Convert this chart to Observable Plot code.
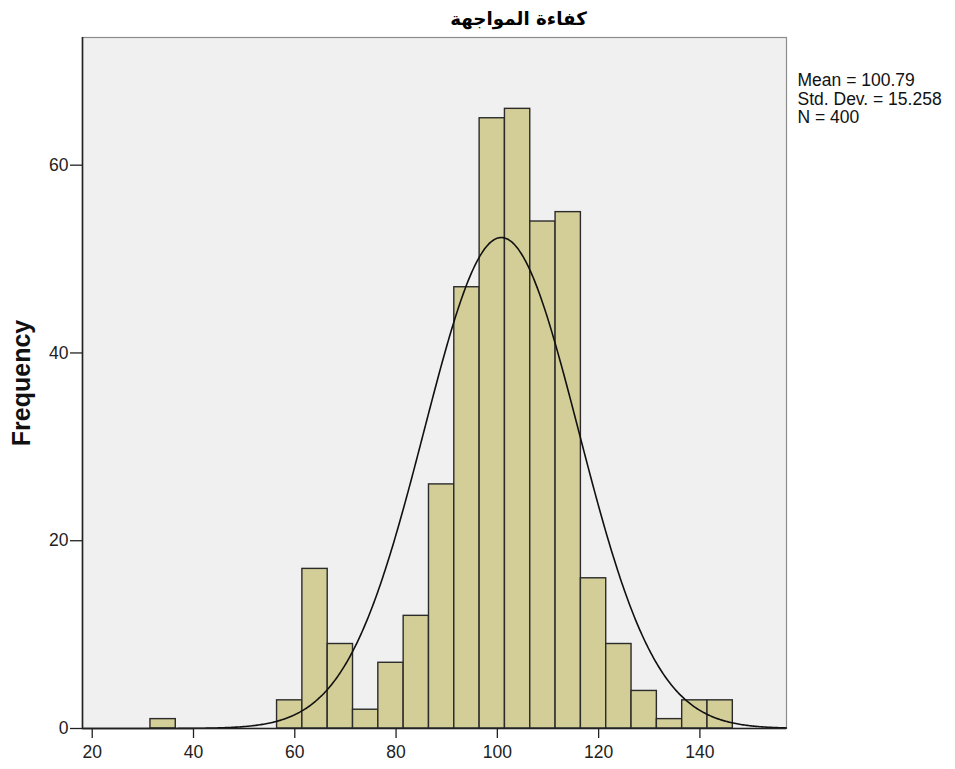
<!DOCTYPE html>
<html>
<head>
<meta charset="utf-8">
<script src="https://cdn.jsdelivr.net/npm/d3@7"></script>
<script src="https://cdn.jsdelivr.net/npm/@observablehq/plot@0.6"></script>
<style>
  html, body { margin: 0; padding: 0; background: #ffffff; }
  svg { overflow: visible; }
</style>
</head>
<body>
<div id="chart"></div>
<script>
// Data
const title = "كفاءة المواجهة";
const yLabel = "Frequency";
const binLower = [31.5, 56.5, 61.5, 66.5, 71.5, 76.5, 81.5, 86.5, 91.5, 96.5, 101.5, 106.5, 111.5, 116.5, 121.5, 126.5, 131.5, 136.5, 141.5];
const counts   = [1,    3,    17,   9,    2,    7,    12,   26,   47,   65,   66,    54,    55,    16,    9,     4,     1,     3,     3];
const binWidth = 5;
const statMean = 100.79;
const statSD = 15.258;
const statN = 400;
const statsLines = ["Mean = 100.79", "Std. Dev. = 15.258", "N = 400"];
const xTicks = [20, 40, 60, 80, 100, 120, 140];
const yTicks = [0, 20, 40, 60];
const xDomain = [18.08, 157.1];
const yDomain = [0, 73.6];

const bars = binLower.map((lo, i) => ({x1: lo, x2: lo + binWidth, y: counts[i]}));

// Fitted normal curve defined by the displayed statistics
const curve = d3.range(xDomain[0], xDomain[1] + 0.001, 0.25).map(x => ({
  x,
  y: statN * binWidth / (statSD * Math.sqrt(2 * Math.PI)) * Math.exp(-0.5 * ((x - statMean) / statSD) ** 2)
}));

const chart = Plot.plot({
  width: 955,
  height: 769,
  marginLeft: 82,
  marginRight: 169,
  marginTop: 37,
  marginBottom: 41,
  style: {fontFamily: "'Liberation Sans', Arial, sans-serif", fontSize: "17px", color: "#222", background: "#ffffff"},
  x: {domain: xDomain},
  y: {domain: yDomain},
  marks: [
    Plot.frame({fill: "#f0f0f0", stroke: "#8c8c8c", strokeWidth: 1.2}),
    Plot.rectY(bars, {x1: "x1", x2: "x2", y: "y", fill: "#d3ce97", stroke: "#2b2b2b", strokeWidth: 1.4}),
    Plot.line(curve, {x: "x", y: "y", stroke: "#111", strokeWidth: 1.6, curve: "basis"}),
    Plot.ruleY([0], {stroke: "#222", strokeWidth: 1.6}),
    Plot.ruleX([xDomain[0]], {stroke: "#222", strokeWidth: 1.6}),
    Plot.axisX({ticks: xTicks, tickSize: 10, tickPadding: 7, label: null, fontSize: 17.5, stroke: "#222", strokeWidth: 1.3, fill: "#222"}),
    Plot.axisY({ticks: yTicks, tickSize: 12, tickPadding: 2, label: null, fontSize: 17.5, stroke: "#222", strokeWidth: 1.3, fill: "#222"}),
    Plot.text([title], {frameAnchor: "top", dx: 84, dy: -13, lineAnchor: "bottom", fontFamily: "'DejaVu Sans', sans-serif", fontWeight: "bold", fontSize: 18.3, fill: "#000"}),
    Plot.text([statsLines.join("\n")], {frameAnchor: "top-right", dx: 11, dy: 35, textAnchor: "start", lineAnchor: "top", lineHeight: 1.07, fontSize: 17.5, fill: "#111"}),
    Plot.text([yLabel], {frameAnchor: "left", textAnchor: "middle", rotate: -90, dx: -61, fontWeight: "bold", fontSize: 25, fill: "#111"})
  ]
});
document.getElementById("chart").appendChild(chart);
</script>
</body>
</html>
